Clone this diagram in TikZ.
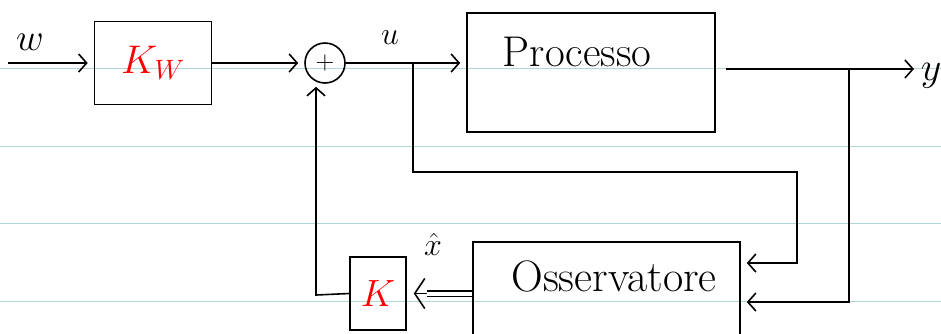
\RequirePackage{fix-cm}
\documentclass[tikz,border=0pt]{standalone}
\usetikzlibrary{arrows.meta}
\definecolor{ruleteal}{RGB}{178,214,214}
\begin{document}
\begin{tikzpicture}[x=1pt,y=-1pt,
  line width=1.6pt,
  box/.style={draw, rectangle, line width=1.6pt, inner sep=0pt},
  arr/.style={-{Straight Barb[length=8pt,width=18pt]}, shorten >=6pt},
  ruleline/.style={draw=ruleteal, line width=1pt},
  lbl/.style={inner sep=0pt}]
\useasboundingbox (0,0) rectangle (941,333);
\clip (0,0) rectangle (941,333);
% notebook rule lines
\foreach \yy in {68,146,223,301} \draw[ruleline] (0,\yy) -- (941,\yy);
% blocks
\node[box, minimum width=117pt, minimum height=83pt, text=red,
      font=\fontsize{40}{44}\selectfont] (kw) at (153,63) {$K_W$};
\node[draw, circle, line width=1.6pt, minimum size=40pt, inner sep=0pt,
      font=\fontsize{26}{28}\selectfont] (sum) at (325,63) {$+$};
\node[box, minimum width=248pt, minimum height=119pt] (proc) at (591,72.5) {};
\node[lbl, anchor=west, font=\fontsize{43}{46}\selectfont] (proctxt) at (502,52) {Processo};
\node[box, minimum width=267pt, minimum height=100pt] (obs) at (606.5,292) {};
\node[lbl, font=\fontsize{44}{48}\selectfont] (obstxt) at (614,276) {Osservatore};
\node[box, minimum width=56pt, minimum height=73pt, text=red,
      font=\fontsize{38}{42}\selectfont] (kbox) at (378,293.5) {$K$};
% labels
\node[lbl, font=\fontsize{38}{42}\selectfont] (wlab) at (30,42) {$w$};
\node[lbl, font=\fontsize{32}{36}\selectfont] (ulab) at (390,38) {$u$};
\node[lbl, anchor=west, font=\fontsize{40}{44}\selectfont] (ylab) at (920,76) {$y$};
\node[lbl, font=\fontsize{32}{36}\selectfont] (xhat) at (433,244) {$\hat{x}$};
% coordinates
\coordinate (win) at (8,63);
\coordinate (b1) at (413,63);
\coordinate (c1) at (797,172);
\coordinate (c2) at (797,263);
\coordinate (b2) at (849,69);
\coordinate (c3) at (849,302);
\coordinate (c4) at (316,295);
% connectors
\draw[arr] (win) -- (kw.west);
\draw[arr] (kw.east) -- (sum.west);
\draw[arr] (sum.east) -- (sum.east -| proc.west);
\draw[arr, shorten <=10pt] (proc.east |- b2) -- (ylab.west |- b2);
\draw[arr] (b1) -- (b1 |- c1) -- (c1) -- (c2) -- (obs.east |- c2);
\draw[arr] (b2) -- (c3) -- (obs.east |- c3);
\draw[-{Straight Barb[length=10pt,width=30pt]}, shorten >=7pt]
  (obs.west |- kbox.east) -- (kbox.east);
\draw[double, double distance=4pt, line width=1.4pt, shorten >=20pt]
  (obs.west |- kbox.east) -- (kbox.east);
\draw[arr, shorten >=3pt] (kbox.west) -- (c4) -- (c4 |- sum.south);
\end{tikzpicture}
\end{document}
